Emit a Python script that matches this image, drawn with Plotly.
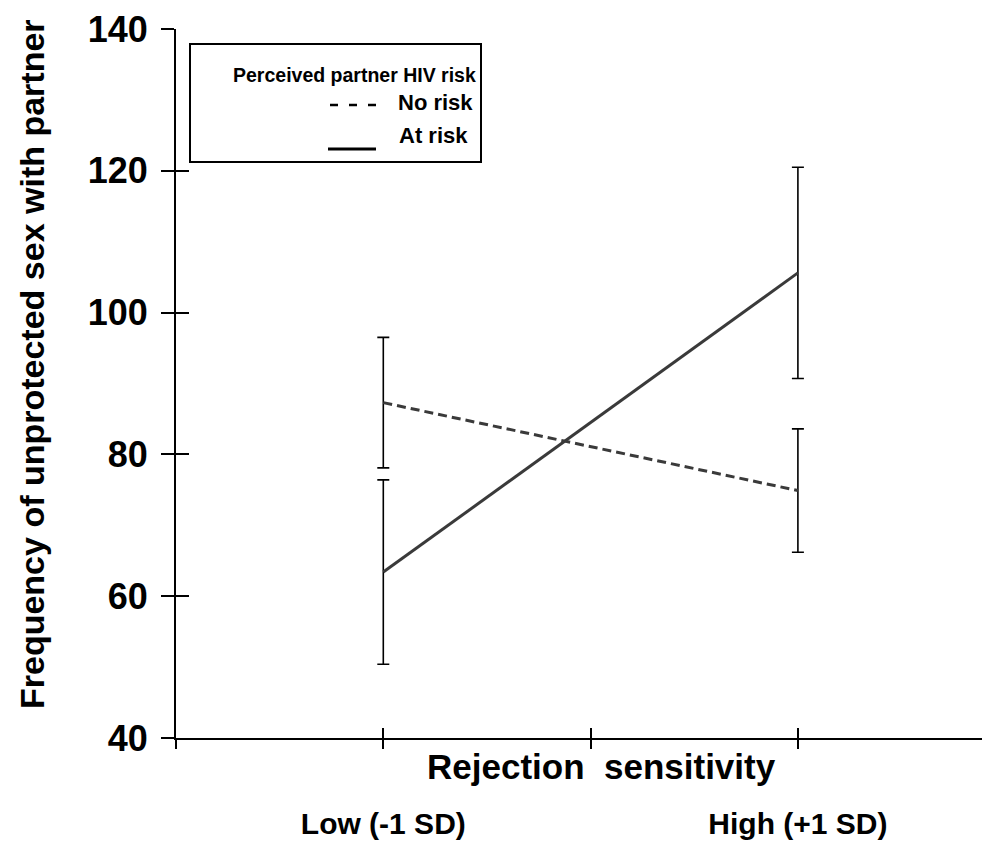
import plotly.graph_objects as go

# ---- data ----
x_positions = [1, 3]
tick_labels = ["Low (-1 SD)", "High (+1 SD)"]
no_risk_mean = [87.3, 74.9]
no_risk_err = [9.2, 8.7]
at_risk_mean = [63.4, 105.6]
at_risk_err = [13.0, 14.9]

# the page body adds an 8px offset; compensate so the screen picture lines up
OFF = 8
W, H = 990 - OFF, 844 - OFF
ML, MR, MT, MB = 176 - OFF, 0, 29 - OFF, 106
PW, PH = W - ML - MR, H - MT - MB

def px(x):
    # screen x -> paper
    return (x - OFF - ML) / PW

def py(y):
    # screen y -> paper
    return (H - MB - (y - OFF)) / PH

FONT = "Liberation Sans, Arial, sans-serif"
LINE_COL = "#3a3a3a"

fig = go.Figure()
fig.add_trace(go.Scatter(
    x=x_positions, y=no_risk_mean, mode="lines", name="No risk",
    line=dict(color=LINE_COL, width=3, dash="9px,5px"),
    error_y=dict(type="data", array=no_risk_err, color="black", thickness=1.6, width=6),
    showlegend=False,
))
fig.add_trace(go.Scatter(
    x=x_positions, y=at_risk_mean, mode="lines", name="At risk",
    line=dict(color=LINE_COL, width=3),
    error_y=dict(type="data", array=at_risk_err, color="black", thickness=1.6, width=6),
    showlegend=False,
))
# invisible trace to activate overlay axes (for ticks crossing the axis lines)
fig.add_trace(go.Scatter(x=[None], y=[None], xaxis="x2", yaxis="y2", showlegend=False))

xr = [0, PW / 207.3]
fig.update_layout(
    width=W, height=H,
    margin=dict(l=ML, r=MR, t=MT, b=MB),
    paper_bgcolor="white", plot_bgcolor="white",
    font=dict(family=FONT, color="black"),
    xaxis=dict(
        range=xr, showgrid=False, zeroline=False, showline=True, linecolor="black", linewidth=2,
        tickmode="array", tickvals=[0, 1, 2, 3], ticktext=["", tick_labels[0], "", tick_labels[1]],
        ticks="outside", ticklen=9, tickwidth=1.5, tickcolor="black",
        tickfont=dict(size=30, family=FONT, weight="bold"), ticklabelstandoff=49,
    ),
    xaxis2=dict(
        range=xr, overlaying="x", anchor="y", side="bottom", showgrid=False, zeroline=False,
        showline=False, tickmode="array", tickvals=[0, 1, 2, 3], ticks="inside", ticklen=10,
        tickwidth=1.5, tickcolor="black", showticklabels=False,
    ),
    yaxis=dict(
        range=[40, 140], showgrid=False, zeroline=False, showline=True, linecolor="black", linewidth=2,
        tickmode="array", tickvals=[40, 60, 80, 100, 120, 140],
        ticks="outside", ticklen=13, tickwidth=1.5, tickcolor="black",
        tickfont=dict(size=36, family=FONT, weight="bold"), ticklabelstandoff=6,
    ),
    yaxis2=dict(
        range=[40, 140], overlaying="y", anchor="x", side="left", showgrid=False, zeroline=False,
        showline=False, tickmode="array", tickvals=[40, 60, 80, 100, 120, 140], ticks="inside",
        ticklen=13, tickwidth=1.5, tickcolor="black", showticklabels=False,
    ),
)

# axis titles
fig.add_annotation(text="Frequency of unprotected sex with partner", xref="paper", yref="paper",
                   x=px(32), y=py(364), textangle=-90, showarrow=False,
                   font=dict(size=34, family=FONT, weight="bold"), xanchor="center", yanchor="middle")
fig.add_annotation(text="Rejection\u00a0 sensitivity", xref="paper", yref="paper",
                   x=px(601), y=py(766), showarrow=False,
                   font=dict(size=35, family=FONT, weight="bold"), xanchor="center", yanchor="middle")

# legend box
fig.add_shape(type="rect", xref="paper", yref="paper", x0=px(190), x1=px(481), y0=py(162), y1=py(44),
              line=dict(color="black", width=2), fillcolor="white", layer="above")
fig.add_annotation(text="Perceived partner HIV risk", xref="paper", yref="paper", x=px(354), y=py(75),
                   showarrow=False, font=dict(size=19.5, family=FONT, weight="bold"),
                   xanchor="center", yanchor="middle")
fig.add_annotation(text="No risk", xref="paper", yref="paper", x=px(396), y=py(103),
                   showarrow=False, font=dict(size=22, family=FONT, weight="bold"),
                   xanchor="left", yanchor="middle")
fig.add_annotation(text="At risk", xref="paper", yref="paper", x=px(397), y=py(136),
                   showarrow=False, font=dict(size=22, family=FONT, weight="bold"),
                   xanchor="left", yanchor="middle")
fig.add_shape(type="line", xref="paper", yref="paper", x0=px(330), x1=px(376), y0=py(105), y1=py(105),
              line=dict(color="black", width=2.5, dash="8px,11px"), layer="above")
fig.add_shape(type="line", xref="paper", yref="paper", x0=px(328), x1=px(376), y0=py(149), y1=py(149),
              line=dict(color="black", width=3), layer="above")

fig.write_html("out.html")
